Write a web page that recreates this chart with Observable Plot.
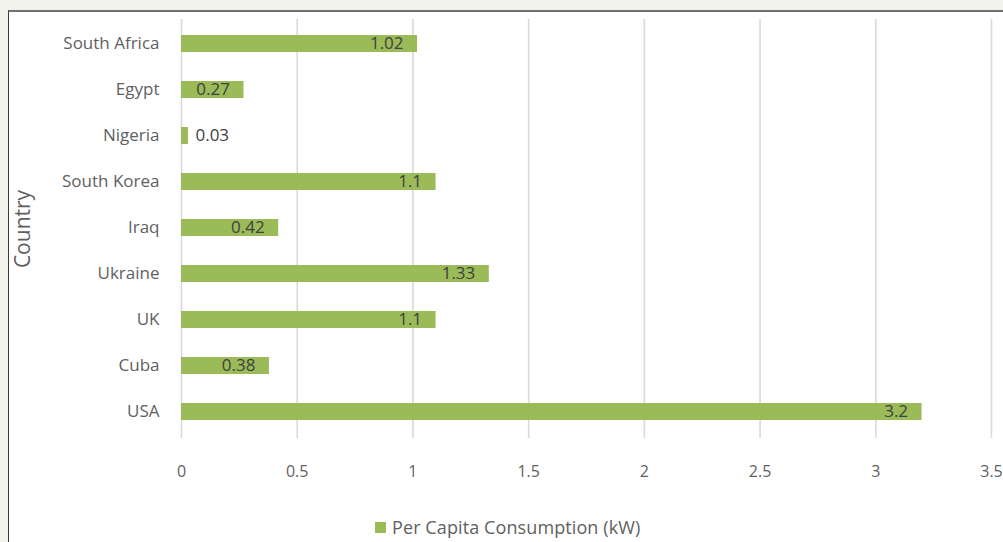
<!DOCTYPE html>
<html>
<head>
<meta charset="utf-8">
<script src="https://cdn.jsdelivr.net/npm/d3@7"></script>
<script src="https://cdn.jsdelivr.net/npm/@observablehq/plot@0.6"></script>
<style>
  html, body { margin: 0; padding: 0; }
  body { width: 1003px; height: 542px; background: #f2f2ed; position: relative; overflow: hidden; font-family: "Open Sans", sans-serif; }
  #panel { position: absolute; left: 8px; top: 10px; width: 1000px; height: 540px; background: #fff; border-top: 2px solid #707070; border-left: 1px solid #3a3a3a; }
  #chart { position: absolute; left: 0; top: 0; }
  #legend { position: absolute; top: 515px; left: 375px; font-size: 18px; color: #5f5f5f; display: flex; align-items: center; letter-spacing: 0.1px; }
  #legend .sw { width: 11px; height: 11px; background: #9bbb59; margin-right: 6px; }
</style>
</head>
<body>
<div id="panel"></div>
<div id="chart"></div>
<div id="legend"><span class="sw"></span><span id="legtext"></span></div>
<script>
const countries = ["South Africa", "Egypt", "Nigeria", "South Korea", "Iraq", "Ukraine", "UK", "Cuba", "USA"];
const consumption = [1.02, 0.27, 0.03, 1.1, 0.42, 1.33, 1.1, 0.38, 3.2];
const xTicks = [0, 0.5, 1, 1.5, 2, 2.5, 3, 3.5];
const seriesName = "Per Capita Consumption (kW)";
const axisTitle = "Country";

const data = countries.map((c, i) => ({country: c, value: consumption[i]}));
const inside = data.filter(d => d.value >= 0.1);
const outside = data.filter(d => d.value < 0.1);

const chart = Plot.plot({
  width: 1003,
  height: 490,
  marginLeft: 181,
  marginRight: 12,
  marginTop: 19,
  marginBottom: 52,
  style: {background: "transparent", fontFamily: "Open Sans, sans-serif", fontSize: "16px", color: "#5f5f5f"},
  x: {domain: [0, 3.5], ticks: xTicks},
  y: {type: "band", domain: countries, padding: 0.634, range: [3.5, 451.5]},
  marks: [
    Plot.gridX(xTicks, {stroke: "#d9d9d9", strokeOpacity: 1, strokeWidth: 1.6}),
    Plot.barX(data, {x: "value", y: "country", fill: "#9bbb59"}),
    Plot.text(inside, {x: "value", y: "country", text: d => String(d.value), textAnchor: "end", dx: -14, fill: "#404040", fontSize: 17}),
    Plot.text(outside, {x: "value", y: "country", text: d => String(d.value), textAnchor: "start", dx: 7, fill: "#404040", fontSize: 17}),
    Plot.axisX({ticks: xTicks, tickSize: 0, tickPadding: 27, label: null, tickFormat: d => String(d), fill: "#5f5f5f", fontSize: 16}),
    Plot.axisY({tickSize: 0, tickPadding: 22, label: null, fill: "#5f5f5f", fontSize: 17, style: {letterSpacing: "0.3px"}}),
    Plot.axisY({ticks: [], tickSize: 0, label: axisTitle, labelAnchor: "center", labelOffset: 166, fill: "#5f5f5f", fontSize: 21, style: {letterSpacing: "0.8px"}})
  ]
});
document.getElementById("chart").appendChild(chart);
document.getElementById("legtext").textContent = seriesName;
</script>
</body>
</html>
